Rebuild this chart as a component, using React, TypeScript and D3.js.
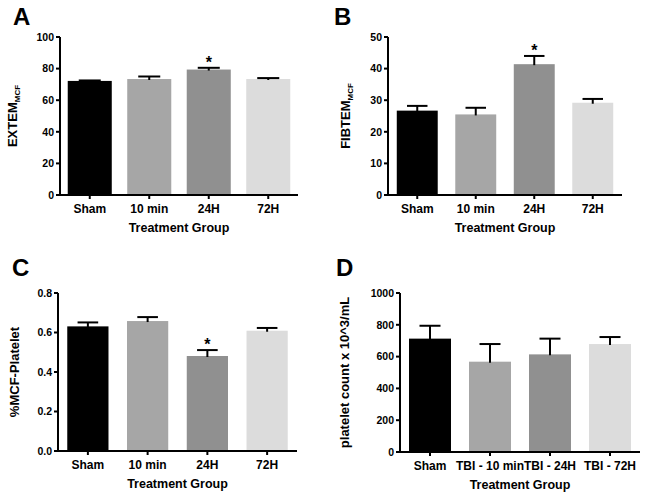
import React from "react";
import * as d3 from "d3";

const groupsABC = ["Sham", "10 min", "24H", "72H"];
const groupsD = ["Sham", "TBI - 10 min", "TBI - 24H", "TBI - 72H"];
const barColors = ["#000000", "#a6a6a6", "#909090", "#dcdcdc"];

const extemMean = [72.2, 73.4, 79.4, 73.4];
const extemErr = [0.3, 1.6, 1.1, 0.6];
const extemSig = [false, false, true, false];
const extemTicks = [0, 20, 40, 60, 80, 100];

const fibtemMean = [26.7, 25.5, 41.4, 29.2];
const fibtemErr = [1.5, 2.1, 2.6, 1.2];
const fibtemSig = [false, false, true, false];
const fibtemTicks = [0, 10, 20, 30, 40, 50];

const mcfMean = [0.631, 0.658, 0.481, 0.609];
const mcfErr = [0.02, 0.02, 0.03, 0.014];
const mcfSig = [false, false, true, false];
const mcfTicks = [0, 0.2, 0.4, 0.6, 0.8];

const plateletMean = [713, 568, 614, 679];
const plateletErr = [81, 111, 99, 44];
const plateletSig = [false, false, false, false];
const plateletTicks = [0, 200, 400, 600, 800, 1000];

const FONT = "'Liberation Sans', Arial, sans-serif";

type PanelProps = {
  letter: string;
  letterX: number;
  letterY: number;
  x0: number;
  x1: number;
  yBottom: number;
  yTop: number;
  yMax: number;
  ticks: number[];
  tickFmt: (v: number) => string;
  cats: string[];
  means: number[];
  errs: number[];
  sig: boolean[];
  pad: number;
  yLabel: React.ReactNode;
  yLabelX: number;
};

function Panel(p: PanelProps) {
  const x = d3
    .scaleBand<string>()
    .domain(p.cats)
    .range([p.x0, p.x1])
    .paddingInner(p.pad)
    .paddingOuter(p.pad / 2);
  const y = d3.scaleLinear().domain([0, p.yMax]).range([p.yBottom, p.yTop]);
  const bw = x.bandwidth();
  const yMid = (p.yBottom + p.yTop) / 2;
  return (
    <g fontFamily={FONT} fontWeight="bold">
      <text x={p.letterX} y={p.letterY} fontSize={24}>
        {p.letter}
      </text>
      {p.cats.map((c, i) => {
        const bx = x(c) as number;
        const cx = bx + bw / 2;
        const yt = y(p.means[i]);
        const yc = y(p.means[i] + p.errs[i]);
        return (
          <g key={c}>
            <rect x={bx} y={yt} width={bw} height={p.yBottom - yt} fill={barColors[i]} />
            <line x1={cx} x2={cx} y1={yt + 1} y2={yc} stroke="#000" strokeWidth={2} />
            <line x1={cx - bw / 4} x2={cx + bw / 4} y1={yc} y2={yc} stroke="#000" strokeWidth={2} />
            {p.sig[i] && (
              <text x={cx} y={yc} textAnchor="middle" fontSize={16}>
                *
              </text>
            )}
            <line x1={cx} x2={cx} y1={p.yBottom} y2={p.yBottom + 4} stroke="#000" strokeWidth={2} />
            <text x={cx} y={p.yBottom + 18} textAnchor="middle" fontSize={12}>
              {c}
            </text>
          </g>
        );
      })}
      <line x1={p.x0} x2={p.x0} y1={p.yTop} y2={p.yBottom + 1} stroke="#000" strokeWidth={2} />
      <line x1={p.x0 - 1} x2={p.x1} y1={p.yBottom} y2={p.yBottom} stroke="#000" strokeWidth={2} />
      {p.ticks.map((t) => (
        <g key={t}>
          <line x1={p.x0 - 4} x2={p.x0} y1={y(t)} y2={y(t)} stroke="#000" strokeWidth={2} />
          <text x={p.x0 - 6} y={y(t)} dy="0.36em" textAnchor="end" fontSize={10.5}>
            {p.tickFmt(t)}
          </text>
        </g>
      ))}
      <text x={(p.x0 + p.x1) / 2} y={p.yBottom + 37} textAnchor="middle" fontSize={12.5}>
        Treatment Group
      </text>
      <text
        transform={`translate(${p.yLabelX},${yMid}) rotate(-90)`}
        textAnchor="middle"
        fontSize={13}
      >
        {p.yLabel}
      </text>
    </g>
  );
}

export default function App() {
  const intFmt = d3.format("d");
  const decFmt = d3.format(".1f");
  return (
    <svg width={645} height={499} style={{ position: "absolute", left: 0, top: 0, background: "#fff" }}>
      <rect width={645} height={499} fill="#fff" />
      <Panel
        letter="A" letterX={13} letterY={25}
        x0={60} x1={298} yBottom={195} yTop={37} yMax={100}
        ticks={extemTicks} tickFmt={intFmt}
        cats={groupsABC} means={extemMean} errs={extemErr} sig={extemSig} pad={0.26}
        yLabel={<>EXTEM<tspan fontSize={8} dy={3}>MCF</tspan></>}
        yLabelX={17}
      />
      <Panel
        letter="B" letterX={334} letterY={25}
        x0={388} x1={622} yBottom={195} yTop={37} yMax={50}
        ticks={fibtemTicks} tickFmt={intFmt}
        cats={groupsABC} means={fibtemMean} errs={fibtemErr} sig={fibtemSig} pad={0.3}
        yLabel={<>FIBTEM<tspan fontSize={8} dy={3}>MCF</tspan></>}
        yLabelX={350}
      />
      <Panel
        letter="C" letterX={12} letterY={276}
        x0={58} x1={297} yBottom={451} yTop={293} yMax={0.8}
        ticks={mcfTicks} tickFmt={decFmt}
        cats={groupsABC} means={mcfMean} errs={mcfErr} sig={mcfSig} pad={0.31}
        yLabel={<>%MCF-Platelet</>}
        yLabelX={19}
      />
      <Panel
        letter="D" letterX={336} letterY={276}
        x0={400} x1={640} yBottom={452} yTop={293} yMax={1000}
        ticks={plateletTicks} tickFmt={intFmt}
        cats={groupsD} means={plateletMean} errs={plateletErr} sig={plateletSig} pad={0.3}
        yLabel={<>platelet count x 10^3/mL</>}
        yLabelX={349}
      />
    </svg>
  );
}
